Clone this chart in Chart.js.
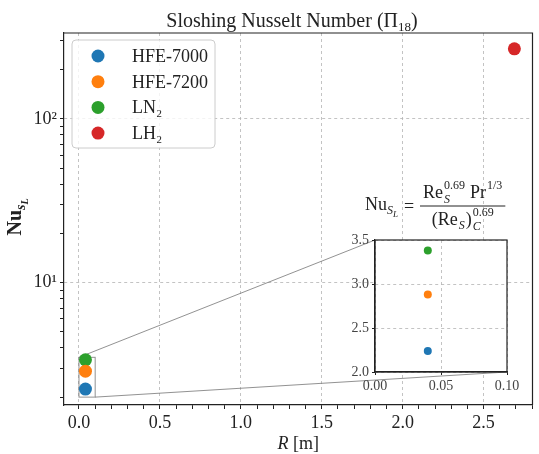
<!DOCTYPE html>
<html>
<head>
<meta charset="utf-8">
<script src="https://cdn.jsdelivr.net/npm/chart.js@4"></script>
<style>
  html, body { margin: 0; padding: 0; background: #fff; }
  #wrap { position: relative; width: 539px; height: 454px; }
  #wrap canvas { position: absolute; left: 0; top: 0; }
</style>
</head>
<body>
<div id="wrap">
  <canvas id="main" width="539" height="454"></canvas>
  <canvas id="inset" width="539" height="454"></canvas>
</div>
<script>
// data
const fluids = ['HFE-7000', 'HFE-7200', 'LN₂', 'LH₂'];
const radius = [0.04, 0.04, 0.04, 2.69];      // R [m]
const nusselt = [2.24, 2.88, 3.38, 268];      // Nu_SL
const colors = ['#1f77b4', '#ff7f0e', '#2ca02c', '#d62728'];

const xMajor = [0, 0.5, 1.0, 1.5, 2.0, 2.5];
const yMajor = [10, 100];
const yMajorLabels = ['10¹', '10²'];
const insetXTicks = [0, 0.05, 0.10];
const insetXLabels = ['0.00', '0.05', '0.10'];
const insetYTicks = [2.0, 2.5, 3.0, 3.5];
const zoomBox = { x0: 0, x1: 0.10, y0: 2.0, y1: 3.5 };

const SERIF = '"Liberation Serif", "DejaVu Serif", serif';
const INK = '#222';
const GRID = '#b4b4b4';
const CLEAR = 'rgba(0,0,0,0)';

function fontStr(p) {
  return (p.italic ? 'italic ' : '') + (p.bold ? 'bold ' : '') + p.size + 'px ' + SERIF;
}

// draws pieces of text one after another (sub/superscripts through dy)
function run(ctx, parts, x, y, measureOnly) {
  let held = 0;
  const x0 = x;
  parts.forEach(p => {
    ctx.font = fontStr(p);
    const w = ctx.measureText(p.t).width;
    if (!measureOnly) ctx.fillText(p.t, x, y + (p.dy || 0));
    if (p.hold) { held = w; return; }
    x += Math.max(w, held) + (p.gap || 0);
    held = 0;
  });
  return x - x0;
}

const near = (a, b) => Math.abs(a - b) < 1e-6;

// ---------- inset ----------
const insetData = fluids.map((f, i) => ({
  label: f,
  data: (radius[i] <= zoomBox.x1 && nusselt[i] <= zoomBox.y1) ? [{ x: radius[i], y: nusselt[i] }] : [],
  backgroundColor: colors[i],
  borderWidth: 0,
  pointRadius: 4,
  pointHoverRadius: 4
}));

const insetDecor = {
  id: 'insetDecor',
  beforeDraw(chart) {
    const a = chart.chartArea;
    const ctx = chart.ctx;
    ctx.save();
    ctx.fillStyle = '#fff';
    ctx.fillRect(a.left, a.top, a.right - a.left, a.bottom - a.top);
    ctx.restore();
  },
  afterDraw(chart) {
    const a = chart.chartArea;
    const ctx = chart.ctx;
    ctx.save();
    ctx.strokeStyle = INK;
    ctx.lineWidth = 1.2;
    ctx.strokeRect(a.left, a.top, a.right - a.left, a.bottom - a.top);

    // formula above the inset
    ctx.fillStyle = INK;
    ctx.textBaseline = 'alphabetic';
    const num = [
      { t: 'Re', size: 18, gap: 1 },
      { t: 'S', size: 12, italic: true, dy: 5, hold: true },
      { t: '0.69', size: 12, dy: -9, gap: 5 },
      { t: 'Pr', size: 18, gap: 1 },
      { t: '1/3', size: 12, dy: -9 }
    ];
    const den = [
      { t: '(Re', size: 18, gap: 1 },
      { t: 'S', size: 12, italic: true, dy: 4, gap: 1 },
      { t: ')', size: 18, gap: 1 },
      { t: 'C', size: 12, italic: true, dy: 5, hold: true },
      { t: '0.69', size: 12, dy: -9 }
    ];
    const lhs = [
      { t: 'Nu', size: 18 },
      { t: 'S', size: 12, italic: true, dy: 4 },
      { t: 'L', size: 9, italic: true, dy: 7 }
    ];
    const barY = a.top - 34;
    const numW = run(ctx, num, 0, 0, true);
    const denW = run(ctx, den, 0, 0, true);
    const barW = Math.max(numW, denW) + 6;
    const barX = 420;
    ctx.lineWidth = 1;
    ctx.beginPath();
    ctx.moveTo(barX, barY);
    ctx.lineTo(barX + barW, barY);
    ctx.stroke();
    run(ctx, num, barX + (barW - numW) / 2, barY - 8);
    run(ctx, den, barX + (barW - denW) / 2, barY + 19);
    const lhsW = run(ctx, lhs, 0, 0, true);
    run(ctx, lhs, 398 - lhsW, barY + 4);
    ctx.font = fontStr({ size: 18 });
    ctx.fillText('=', 404, barY + 6);
    ctx.restore();
  }
};

const insetChart = new Chart(document.getElementById('inset'), {
  type: 'scatter',
  data: { datasets: insetData },
  options: {
    responsive: false,
    animation: false,
    events: [],
    layout: { padding: { left: 345, top: 240, right: 32, bottom: 62 } },
    plugins: { legend: { display: false }, tooltip: { enabled: false } },
    scales: {
      x: {
        type: 'linear', min: zoomBox.x0, max: zoomBox.x1, bounds: 'data',
        afterBuildTicks: s => { s.ticks = insetXTicks.map(v => ({ value: v })); },
        afterFit: s => { s.height = 20; },
        ticks: {
          callback: (v, i) => insetXLabels[i],
          font: { family: SERIF, size: 14 }, color: '#444', padding: 3, maxRotation: 0, autoSkip: false
        },
        grid: { color: GRID, lineWidth: 0.8, tickColor: INK, tickWidth: 1, tickLength: 3 },
        border: { display: true, color: INK, width: 1.2, dash: [3, 3] }
      },
      y: {
        type: 'linear', min: zoomBox.y0, max: zoomBox.y1, bounds: 'data',
        afterBuildTicks: s => { s.ticks = insetYTicks.map(v => ({ value: v })); },
        afterFit: s => { s.width = 30; },
        ticks: {
          callback: v => v.toFixed(1),
          font: { family: SERIF, size: 14 }, color: '#444', padding: 3, autoSkip: false
        },
        grid: { color: GRID, lineWidth: 0.8, tickColor: INK, tickWidth: 1, tickLength: 3 },
        border: { display: true, color: INK, width: 1.2, dash: [3, 3] }
      }
    }
  },
  plugins: [insetDecor]
});

// ---------- main chart ----------
const mainData = fluids.map((f, i) => ({
  label: f,
  data: [{ x: radius[i], y: nusselt[i] }],
  backgroundColor: colors[i],
  borderWidth: 0,
  pointRadius: 6.5,
  pointHoverRadius: 6.5
}));

const mainDecor = {
  id: 'mainDecor',
  beforeDatasetsDraw(chart) {
    const { ctx, scales: { x, y } } = chart;
    const ia = insetChart.chartArea;
    const rx0 = x.getPixelForValue(zoomBox.x0), rx1 = x.getPixelForValue(zoomBox.x1);
    const ry0 = y.getPixelForValue(zoomBox.y0), ry1 = y.getPixelForValue(zoomBox.y1);
    ctx.save();
    ctx.strokeStyle = 'rgba(110,110,110,0.75)';
    ctx.lineWidth = 1;
    ctx.strokeRect(rx0, ry1, rx1 - rx0, ry0 - ry1);
    ctx.beginPath();
    ctx.moveTo(rx0, ry1); ctx.lineTo(ia.left, ia.top);
    ctx.moveTo(rx1, ry0); ctx.lineTo(ia.right, ia.bottom);
    ctx.stroke();
    ctx.restore();
  },
  afterDraw(chart) {
    const { ctx, chartArea: a } = chart;
    ctx.save();
    // top and right spines
    ctx.strokeStyle = INK;
    ctx.lineWidth = 1.2;
    ctx.beginPath();
    ctx.moveTo(a.left, a.top); ctx.lineTo(a.right, a.top); ctx.lineTo(a.right, a.bottom);
    ctx.stroke();

    ctx.fillStyle = INK;
    ctx.textBaseline = 'alphabetic';

    // title
    const title = [
      { t: 'Sloshing Nusselt Number (Π', size: 20 },
      { t: '18', size: 13, dy: 4 },
      { t: ')', size: 20 }
    ];
    const tw = run(ctx, title, 0, 0, true);
    run(ctx, title, 292 - tw / 2, 27);

    // x axis title
    const xt = [{ t: 'R', size: 18, italic: true }, { t: ' [m]', size: 18 }];
    const xw = run(ctx, xt, 0, 0, true);
    run(ctx, xt, (a.left + a.right) / 2 - xw / 2, 449);

    // y axis title
    const yt = [
      { t: 'Nu', size: 20, bold: true },
      { t: 's', size: 14, italic: true, bold: true, dy: 4 },
      { t: 'L', size: 10, italic: true, bold: true, dy: 7 }
    ];
    const yw = run(ctx, yt, 0, 0, true);
    ctx.translate(21, (a.top + a.bottom) / 2 - 2);
    ctx.rotate(-Math.PI / 2);
    run(ctx, yt, -yw / 2, 0);
    ctx.setTransform(1, 0, 0, 1, 0, 0);

    // legend
    const lx = 72, ly = 40, lw = 143, lh = 108;
    ctx.fillStyle = 'rgba(255,255,255,0.8)';
    ctx.strokeStyle = '#cccccc';
    ctx.lineWidth = 1;
    ctx.beginPath();
    ctx.roundRect(lx, ly, lw, lh, 4);
    ctx.fill();
    ctx.stroke();
    fluids.forEach((f, i) => {
      const cy = 56 + i * 25.7;
      ctx.fillStyle = colors[i];
      ctx.beginPath();
      ctx.arc(98, cy, 6.5, 0, Math.PI * 2);
      ctx.fill();
      ctx.fillStyle = INK;
      ctx.font = fontStr({ size: 18 });
      ctx.fillText(f, 132, cy + 6);
    });
    ctx.restore();
  }
};

new Chart(document.getElementById('main'), {
  type: 'scatter',
  data: { datasets: mainData },
  options: {
    responsive: false,
    animation: false,
    events: [],
    layout: { padding: { left: 0, top: 33, right: 6, bottom: 0 } },
    plugins: { legend: { display: false }, tooltip: { enabled: false }, title: { display: false } },
    scales: {
      x: {
        type: 'linear', min: -0.0926, max: 2.802, bounds: 'data',
        afterBuildTicks: s => {
          s.ticks = [];
          for (let i = 0; i <= 28; i++) s.ticks.push({ value: i / 10 });
        },
        afterFit: s => { s.height = 49; },
        ticks: {
          callback: v => xMajor.some(m => near(m, v)) ? v.toFixed(1) : '',
          font: { family: SERIF, size: 18 }, color: INK, padding: 3, maxRotation: 0, autoSkip: false
        },
        grid: {
          color: c => c.tick && xMajor.some(m => near(m, c.tick.value)) ? GRID : CLEAR,
          lineWidth: 0.8, tickColor: INK, tickWidth: 1, tickLength: 4
        },
        border: { display: true, color: INK, width: 1.2, dash: [3, 3] }
      },
      y: {
        type: 'logarithmic', min: 1.79, max: 335, bounds: 'data',
        afterBuildTicks: s => {
          const t = [];
          [1, 10, 100].forEach(d => { for (let k = 1; k <= 9; k++) t.push(k * d); });
          s.ticks = t.filter(v => v >= s.min && v <= s.max).map(v => ({ value: v }));
        },
        afterFit: s => { s.width = 64; },
        ticks: {
          callback: v => { const i = yMajor.indexOf(v); return i >= 0 ? yMajorLabels[i] : ''; },
          font: { family: SERIF, size: 18 }, color: INK, padding: 3, autoSkip: false
        },
        grid: {
          color: c => c.tick && yMajor.includes(c.tick.value) ? GRID : CLEAR,
          lineWidth: 0.8, tickColor: INK, tickWidth: 1, tickLength: 4
        },
        border: { display: true, color: INK, width: 1.2, dash: [3, 3] }
      }
    }
  },
  plugins: [mainDecor]
});
</script>
</body>
</html>
